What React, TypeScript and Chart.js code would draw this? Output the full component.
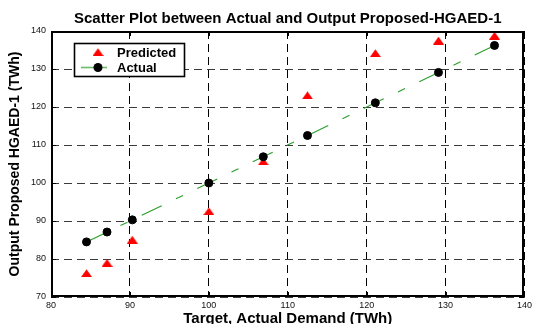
import React, { useEffect, useRef } from 'react';
import { Chart, registerables } from 'chart.js';

Chart.register(...registerables);

// ---- data ----
const targetDemand = [84.5, 87.1, 90.3, 100, 106.9, 112.5, 121.1, 129.1, 136.2];
const actualOutput = [84.5, 87.1, 90.3, 100, 106.9, 112.5, 121.1, 129.1, 136.2];
const predictedOutput = [76.3, 79.0, 85.1, 92.6, 105.7, 123.1, 134.2, 137.5, 138.8];
const xTicks = [80, 90, 100, 110, 120, 130, 140];
const yTicks = [70, 80, 90, 100, 110, 120, 130, 140];
const legendLabels = ['Predicted', 'Actual'];
const chartTitle = 'Scatter Plot between Actual and Output Proposed-HGAED-1';
const xTitle = 'Target, Actual Demand (TWh)';
const yTitle = 'Output Proposed HGAED-1 (TWh)';

const FONT = '"Liberation Sans", Arial, Helvetica, sans-serif';
const RED = '#ff0000';
const GREEN = '#2a9e2a';

function makeTriangle(): HTMLCanvasElement {
  const c = document.createElement('canvas');
  c.width = 11;
  c.height = 8;
  const g = c.getContext('2d')!;
  g.fillStyle = RED;
  g.beginPath();
  g.moveTo(0, 8);
  g.lineTo(11, 8);
  g.lineTo(5.5, 0.3);
  g.closePath();
  g.fill();
  return c;
}

const framePlugin = {
  id: 'frameAndLegend',
  afterDraw(chart: any) {
    const { ctx, chartArea: a, scales } = chart;
    ctx.save();
    ctx.setLineDash([]);
    ctx.strokeStyle = '#000';
    ctx.lineWidth = 1;
    const L = 5;
    const seg = (x1: number, y1: number, x2: number, y2: number) => {
      ctx.beginPath();
      ctx.moveTo(x1, y1);
      ctx.lineTo(x2, y2);
      ctx.stroke();
    };
    scales.x.ticks.forEach((t: any) => {
      const px = Math.round(scales.x.getPixelForValue(t.value)) + 0.5;
      seg(px, a.bottom, px, a.bottom - L);
      seg(px, a.top, px, a.top + L);
    });
    scales.y.ticks.forEach((t: any) => {
      const py = Math.round(scales.y.getPixelForValue(t.value)) + 0.5;
      seg(a.left, py, a.left + L, py);
      seg(a.right, py, a.right - L, py);
    });
    // axes box
    ctx.lineWidth = 2;
    const L0 = Math.round(a.left) + 1;
    const T0 = Math.round(a.top) + 1;
    const R0 = Math.round(a.right) - 1;
    const B0 = Math.round(a.bottom) - 1;
    ctx.strokeRect(L0, T0, R0 - L0, B0 - T0);

    // legend
    const ds = chart.data.datasets;
    const lx = Math.round(a.left) + 23;
    const ly = Math.round(a.top) + 12;
    const lw = 110;
    const lh = 33;
    ctx.fillStyle = '#fff';
    ctx.fillRect(lx, ly, lw, lh);
    ctx.lineWidth = 1.6;
    ctx.strokeStyle = '#000';
    ctx.strokeRect(lx + 0.5, ly + 0.5, lw, lh);

    const tri = ds[0].pointStyle as HTMLCanvasElement;
    ctx.drawImage(tri, lx + 24 - tri.width / 2, ly + 9 - tri.height / 2);

    ctx.strokeStyle = '#6cbc6c';
    ctx.lineWidth = 1.6;
    seg(lx + 7, ly + 24.5, lx + 33, ly + 24.5);
    ctx.fillStyle = ds[1].pointBackgroundColor;
    ctx.beginPath();
    ctx.arc(lx + 24, ly + 24.5, 4.5, 0, Math.PI * 2);
    ctx.fill();

    ctx.fillStyle = '#000';
    ctx.font = `bold 13px ${FONT}`;
    ctx.textAlign = 'left';
    ctx.textBaseline = 'alphabetic';
    ctx.fillText(ds[0].label, lx + 43, ly + 14);
    ctx.fillText(ds[1].label, lx + 43, ly + 29);
    ctx.restore();
  },
};

export default function App() {
  const ref = useRef<HTMLCanvasElement | null>(null);

  useEffect(() => {
    if (!ref.current) return;
    const triangle = makeTriangle();
    const predictedPts = targetDemand.map((x, i) => ({ x, y: predictedOutput[i] }));
    const actualPts = targetDemand.map((x, i) => ({ x, y: actualOutput[i] }));

    const chart = new Chart(ref.current, {
      type: 'scatter',
      data: {
        datasets: [
          {
            label: legendLabels[0],
            data: predictedPts,
            pointStyle: triangle as any,
            pointRadius: 6,
            backgroundColor: RED,
            borderColor: RED,
            showLine: false,
            order: 1,
          },
          {
            label: legendLabels[1],
            data: actualPts,
            showLine: true,
            borderColor: GREEN,
            borderWidth: 1.1,
            borderDash: [22.2, 15.8, 7.8, 15.8],
            borderDashOffset: 0.3,
            pointRadius: 4,
            pointBackgroundColor: '#000',
            pointBorderColor: '#000',
            pointBorderWidth: 1,
            tension: 0,
            order: 0,
          } as any,
        ],
      },
      options: {
        responsive: false,
        animation: false,
        devicePixelRatio: 1,
        layout: { padding: { left: 0, right: 8, top: 0, bottom: 0 } },
        plugins: {
          legend: { display: false },
          tooltip: { enabled: false },
          title: {
            display: true,
            text: chartTitle,
            fullSize: false,
            color: '#000',
            font: { family: FONT, size: 15, weight: 'bold' },
            padding: { top: 10, bottom: 3 },
          },
        },
        scales: {
          x: {
            type: 'linear',
            min: xTicks[0],
            max: xTicks[xTicks.length - 1],
            afterBuildTicks: (s: any) => {
              s.ticks = xTicks.map((v) => ({ value: v }));
            },
            afterFit: (s: any) => {
              s.height = 27;
            },
            grid: { color: '#000', lineWidth: 1, drawTicks: false },
            border: { display: false, dash: [8, 5] },
            ticks: {
              font: { family: FONT, size: 9 },
              color: '#111',
              padding: 3,
              maxRotation: 0,
              autoSkip: false,
            },
            title: {
              display: true,
              text: xTitle,
              color: '#000',
              font: { family: FONT, size: 15, weight: 'bold' },
              padding: { top: 0, bottom: -3.5 },
            },
          },
          y: {
            type: 'linear',
            min: yTicks[0],
            max: yTicks[yTicks.length - 1],
            afterBuildTicks: (s: any) => {
              s.ticks = yTicks.map((v) => ({ value: v }));
            },
            afterFit: (s: any) => {
              s.width = 51;
            },
            grid: { color: '#3a3a3a', lineWidth: 1, drawTicks: false },
            border: { display: false, dash: [8, 5] },
            ticks: {
              font: { family: FONT, size: 9 },
              color: '#111',
              padding: 5,
              autoSkip: false,
            },
            title: {
              display: true,
              text: yTitle,
              color: '#000',
              font: { family: FONT, size: 14, weight: 'bold' },
              padding: { top: 7, bottom: 0 },
            },
          },
        },
      } as any,
      plugins: [framePlugin],
    });

    return () => chart.destroy();
  }, []);

  return (
    <div style={{ position: 'fixed', left: 0, top: 0, width: 535, height: 324, background: '#fff' }}>
      <canvas ref={ref} width={535} height={324} style={{ display: 'block' }} />
    </div>
  );
}
